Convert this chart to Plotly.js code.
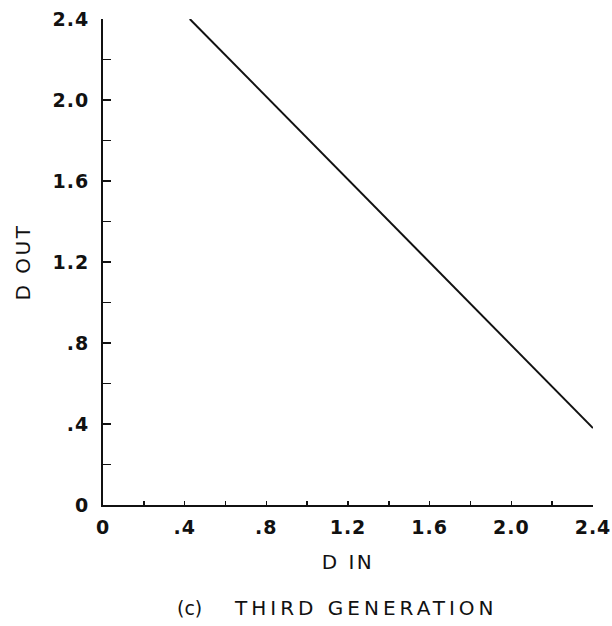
<!DOCTYPE html>
<html>
<head>
<meta charset="utf-8">
<script src="https://cdn.plot.ly/plotly-3.0.1.min.js"></script>
<style>
html,body{margin:0;padding:0;background:#fff;}
#chart{width:612px;height:626px;}
#chart .xtick text, #chart .ytick text{letter-spacing:1px;}
#chart text.xtitle, #chart text.ytitle{letter-spacing:2.5px;}
#chart g.annotation[data-index="1"] text{letter-spacing:4px;}
</style>
</head>
<body>
<div id="chart"></div>
<script>
// Data
var dIn  = [0.425, 2.40];
var dOut = [2.40, 0.38];

var tickVals   = [0, 0.2, 0.4, 0.6, 0.8, 1.0, 1.2, 1.4, 1.6, 1.8, 2.0, 2.2, 2.4];
var tickLabels = ["0", "", ".4", "", ".8", "", "1.2", "", "1.6", "", "2.0", "", "2.4"];

var xTitle = "D IN";
var yTitle = "D OUT";
var captionTag = "(c)";
var captionText = "THIRD GENERATION";

var fam = "DejaVu Sans, Liberation Sans, Arial, sans-serif";
var tickFont = {family: fam, size: 19, color: "#111", weight: "bold"};
var titleFont = {family: fam, size: 20, color: "#111"};

var trace = {
  x: dIn, y: dOut, type: "scatter", mode: "lines",
  line: {color: "#111", width: 2},
  hoverinfo: "skip", showlegend: false
};

var axisCommon = {
  range: [0, 2.4],
  tickmode: "array",
  tickvals: tickVals,
  ticktext: tickLabels,
  ticks: "inside",
  tickwidth: 1.5,
  tickcolor: "#111",
  showline: true,
  linecolor: "#111",
  linewidth: 2,
  showgrid: false,
  zeroline: false,
  tickfont: tickFont,
  fixedrange: true
};

var layout = {
  width: 612, height: 626,
  margin: {l: 103, r: 19, t: 19, b: 121},
  paper_bgcolor: "#fff", plot_bgcolor: "#fff",
  xaxis: Object.assign({}, axisCommon, {
    ticklen: 4,
    ticklabelstandoff: 4,
    title: {text: xTitle, font: titleFont, standoff: 18}
  }),
  yaxis: Object.assign({}, axisCommon, {
    ticklen: 8,
    ticklabelstandoff: 8,
    title: {text: yTitle, font: titleFont, standoff: 20}
  }),
  annotations: [
    {text: captionTag, xref: "paper", yref: "paper",
     x: (189 - 103) / 490, y: -(608 - 505) / 486, xanchor: "center", yanchor: "middle",
     showarrow: false, font: {family: fam, size: 19, color: "#111"}},
    {text: captionText, xref: "paper", yref: "paper",
     x: (366 - 103) / 490, y: -(608 - 505) / 486, xanchor: "center", yanchor: "middle",
     showarrow: false, font: {family: fam, size: 20, color: "#111"}}
  ]
};

Plotly.newPlot("chart", [trace], layout, {displayModeBar: false, staticPlot: true});
</script>
</body>
</html>
